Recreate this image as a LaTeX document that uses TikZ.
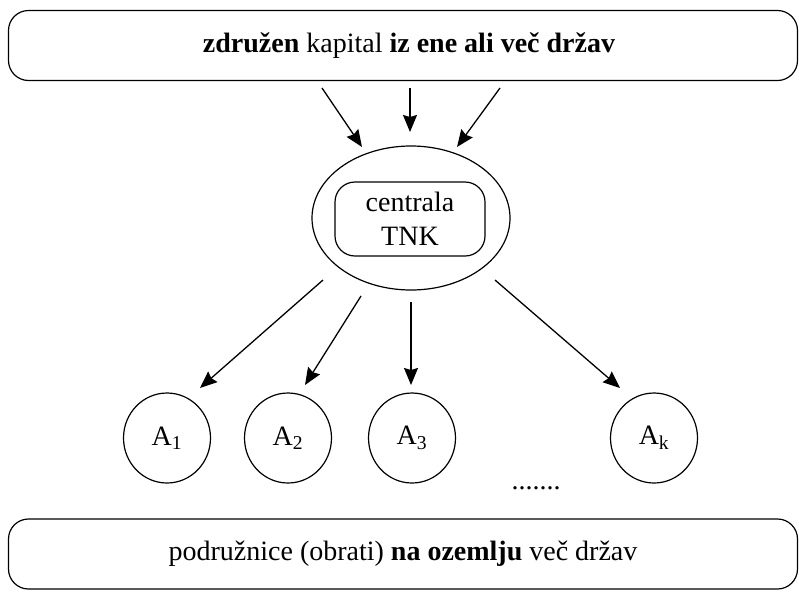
\documentclass[tikz,border=0pt]{standalone}
\usepackage{fontspec}
\setmainfont{Liberation Serif}
\usetikzlibrary{shapes.geometric,arrows.meta}

\tikzset{
  bandbox/.style={draw, line width=1.2pt, rounded corners=20pt, minimum width=789pt, minimum height=70pt},
  firmnode/.style={draw, line width=1.2pt, ellipse, minimum width=87pt, minimum height=90pt, inner sep=0pt},
  arr/.style={line width=1.3pt, -{Stealth[length=17pt,width=14pt,inset=2pt]}}
}

\begin{document}
\begin{tikzpicture}[x=1pt, y=-1pt, font=\fontsize{28}{34}\selectfont]
\path [use as bounding box] (0,0) rectangle (799,592);

% kapital zgoraj, podruznice spodaj
\node[bandbox] (capital) at (403,45.5) {\hspace*{12pt}\textbf{združen} kapital \textbf{iz ene ali več držav}};
\node[bandbox] (branches) at (403,554) {podružnice (obrati) \textbf{na ozemlju} več držav};

% centrala
\node[draw, line width=1.2pt, ellipse, minimum width=198pt, minimum height=144pt] (hq) at (411,218) {};
\node[draw, line width=1.2pt, rounded corners=20pt, minimum width=150pt, minimum height=74pt,
      align=center, inner sep=0pt] (central) at (410,219) {centrala\\TNK};

% podruznice
\node[firmnode] (a1) at (167,438) {A\textsubscript{1}};
\node[firmnode] (a2) at (288,438) {A\textsubscript{2}};
\node[firmnode] (a3) at (412,438) {A\textsubscript{3}};
\node[firmnode] (ak) at (654,438) {A\textsubscript{k}};
\node (dots) at (536,488) {.......};

% vhodi v centralo
\coordinate (in1) at (322,88);  \coordinate (in1e) at (362,147);
\coordinate (in2) at (410,88);  \coordinate (in2e) at (410,132);
\coordinate (in3) at (500,88);  \coordinate (in3e) at (457,147);
\draw[arr] (in1) -- (in1e);
\draw[arr] (in2) -- (in2e);
\draw[arr] (in3) -- (in3e);

% izhodi proti podruznicam
\coordinate (out1) at (323,280); \coordinate (out1e) at (200,388);
\coordinate (out2) at (361,296); \coordinate (out2e) at (305,385);
\coordinate (out3) at (411,302); \coordinate (out3e) at (411,385);
\coordinate (out4) at (495,280); \coordinate (out4e) at (620,388);
\draw[arr] (out1) -- (out1e);
\draw[arr] (out2) -- (out2e);
\draw[arr] (out3) -- (out3e);
\draw[arr] (out4) -- (out4e);
\end{tikzpicture}
\end{document}
